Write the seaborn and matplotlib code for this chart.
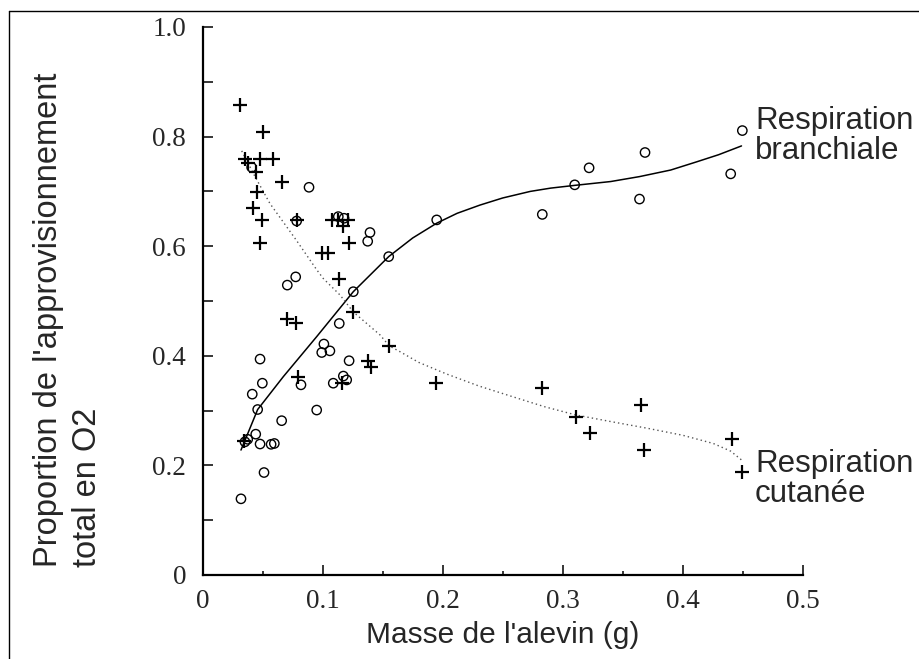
import numpy as np
import pandas as pd
import matplotlib
matplotlib.use("Agg")
import matplotlib.pyplot as plt
from matplotlib.lines import Line2D
from matplotlib.ticker import MultipleLocator, FixedLocator
import seaborn as sns

# --- data ---
branch_x = [0.0408, 0.0886, 0.0783, 0.113, 0.1178, 0.1394, 0.1375, 0.155, 0.0775, 0.0705,
            0.1255, 0.1138, 0.101, 0.0992, 0.106, 0.0478, 0.122, 0.0819, 0.0497, 0.0413,
            0.1088, 0.1172, 0.12, 0.0458, 0.095, 0.0658, 0.0442, 0.0375, 0.0352, 0.0478,
            0.0597, 0.057, 0.0511, 0.0319, 0.4497, 0.3686, 0.322, 0.44, 0.310, 0.364,
            0.195, 0.283]
branch_y = [0.744, 0.7075, 0.646, 0.654, 0.651, 0.625, 0.609, 0.581, 0.544, 0.529,
            0.517, 0.459, 0.4215, 0.406, 0.409, 0.394, 0.391, 0.347, 0.350, 0.330,
            0.350, 0.363, 0.356, 0.302, 0.301, 0.2816, 0.257, 0.2476, 0.243, 0.239,
            0.240, 0.2385, 0.187, 0.139, 0.811, 0.771, 0.743, 0.732, 0.712, 0.686,
            0.648, 0.658]

cut_x = [0.0311, 0.0505, 0.0353, 0.0375, 0.0442, 0.0478, 0.0588, 0.0658, 0.045, 0.0422,
         0.0492, 0.0478, 0.0788, 0.1075, 0.113, 0.1214, 0.1167, 0.122, 0.0992, 0.1047,
         0.1138, 0.1255, 0.0705, 0.0778, 0.1555, 0.138, 0.140, 0.0792, 0.1158, 0.0347,
         0.1944, 0.283, 0.365, 0.311, 0.3228, 0.3678, 0.4408, 0.449]
cut_y = [0.858, 0.808, 0.760, 0.752, 0.735, 0.7586, 0.760, 0.718, 0.698, 0.669,
         0.647, 0.606, 0.647, 0.647, 0.647, 0.647, 0.636, 0.606, 0.588, 0.588,
         0.541, 0.480, 0.467, 0.459, 0.418, 0.391, 0.379, 0.361, 0.350, 0.245,
         0.351, 0.341, 0.310, 0.289, 0.260, 0.229, 0.249, 0.1885]

fit_branch_x = [0.0319, 0.0458, 0.0672, 0.095, 0.1255, 0.155, 0.175, 0.195, 0.212, 0.231,
                0.25, 0.273, 0.29, 0.310, 0.34, 0.364, 0.39, 0.4117, 0.43, 0.449]
fit_branch_y = [0.228, 0.302, 0.362, 0.435, 0.517, 0.581, 0.615, 0.642, 0.660, 0.675,
                0.688, 0.700, 0.706, 0.711, 0.718, 0.727, 0.739, 0.754, 0.767, 0.783]

fit_cut_x = [0.0325, 0.0436, 0.056, 0.078, 0.095, 0.1005, 0.1144, 0.1255, 0.1478,
             0.1555, 0.164, 0.18, 0.203, 0.23, 0.2588, 0.285, 0.311, 0.34, 0.37,
             0.40, 0.4255, 0.44, 0.449]
fit_cut_y = [0.774, 0.727, 0.678, 0.611, 0.557, 0.541, 0.511, 0.480, 0.438,
             0.418, 0.408, 0.388, 0.367, 0.345, 0.325, 0.307, 0.292, 0.280, 0.268,
             0.255, 0.240, 0.226, 0.210]

x_ticks = [0, 0.1, 0.2, 0.3, 0.4, 0.5]
x_ticklabels = ["0", "0.1", "0.2", "0.3", "0.4", "0.5"]
y_ticks = [0, 0.2, 0.4, 0.6, 0.8, 1.0]
y_ticklabels = ["0", "0.2", "0.4", "0.6", "0.8", "1.0"]

sns.set_style("ticks")
plt.rcParams["font.family"] = ["Liberation Sans", "DejaVu Sans"]

W, H = 920, 659
fig = plt.figure(figsize=(W / 100, H / 100), dpi=100)
ax = fig.add_axes([202.7 / W, 1 - 575 / H, 600 / W, 548 / H])

df_b = pd.DataFrame({"x": branch_x, "y": branch_y})
df_c = pd.DataFrame({"x": cut_x, "y": cut_y})
df_fb = pd.DataFrame({"x": fit_branch_x, "y": fit_branch_y})
df_fc = pd.DataFrame({"x": fit_cut_x, "y": fit_cut_y})

sns.lineplot(data=df_fb, x="x", y="y", ax=ax, color="black", lw=1.1, sort=True,
             estimator=None)
sns.lineplot(data=df_fc, x="x", y="y", ax=ax, color="#555555", lw=1.0, sort=True,
             estimator=None, linestyle=(0, (1, 2.2)))
sns.scatterplot(data=df_b, x="x", y="y", ax=ax, marker="o", s=45,
                facecolor="none", edgecolor="black", linewidth=1.0, zorder=3)
sns.scatterplot(data=df_c, x="x", y="y", ax=ax, marker="+", s=110,
                color="black", linewidth=1.6, zorder=3)

ax.set_xlim(0, 0.5)
ax.set_ylim(0, 1.0)
ax.set_xlabel("")
ax.set_ylabel("")
for s in ["top", "right"]:
    ax.spines[s].set_visible(False)
for s in ["left", "bottom"]:
    ax.spines[s].set_linewidth(1.6)
    ax.spines[s].set_color("black")

ax.xaxis.set_major_locator(FixedLocator(x_ticks))
ax.xaxis.set_minor_locator(MultipleLocator(0.05))
ax.yaxis.set_major_locator(FixedLocator(y_ticks))
ax.yaxis.set_minor_locator(MultipleLocator(0.1))
ax.set_xticklabels(x_ticklabels)
ax.set_yticklabels(y_ticklabels)
ax.tick_params(axis="x", which="major", direction="in", length=7, width=1.3, pad=10)
ax.tick_params(axis="x", which="minor", direction="in", length=3, width=1.3)
ax.tick_params(axis="y", which="both", direction="in", length=7, width=1.3, pad=12)
for lab in ax.get_xticklabels() + ax.get_yticklabels():
    lab.set_fontfamily("Liberation Serif")
    lab.set_fontsize(19.5)

fig.text(503 / W, 1 - 635 / H, "Masse de l'alevin (g)", ha="center", va="center",
         fontsize=21.5)
fig.text(68 / W, 1 - 567 / H, "Proportion de l'approvisionnement\ntotal en O2",
         rotation=90, ha="center", va="bottom", multialignment="left",
         fontsize=23.5, linespacing=1.3)

fig.text(755 / W, 1 - 106 / H, "Respiration\nbranchiale", ha="left", va="top",
         fontsize=22.5, linespacing=0.98)
fig.text(755 / W, 1 - 449 / H, "Respiration\ncutanée", ha="left", va="top",
         fontsize=22.5, linespacing=0.98)

# outer frame
fig.add_artist(Line2D([9.5 / W, 9.5 / W], [0, 1 - 10.5 / H], transform=fig.transFigure,
                      color="black", lw=1.0))
fig.add_artist(Line2D([9.5 / W, 1], [1 - 10.5 / H, 1 - 10.5 / H], transform=fig.transFigure,
                      color="black", lw=1.0))

fig.savefig("out.png", dpi=100)
